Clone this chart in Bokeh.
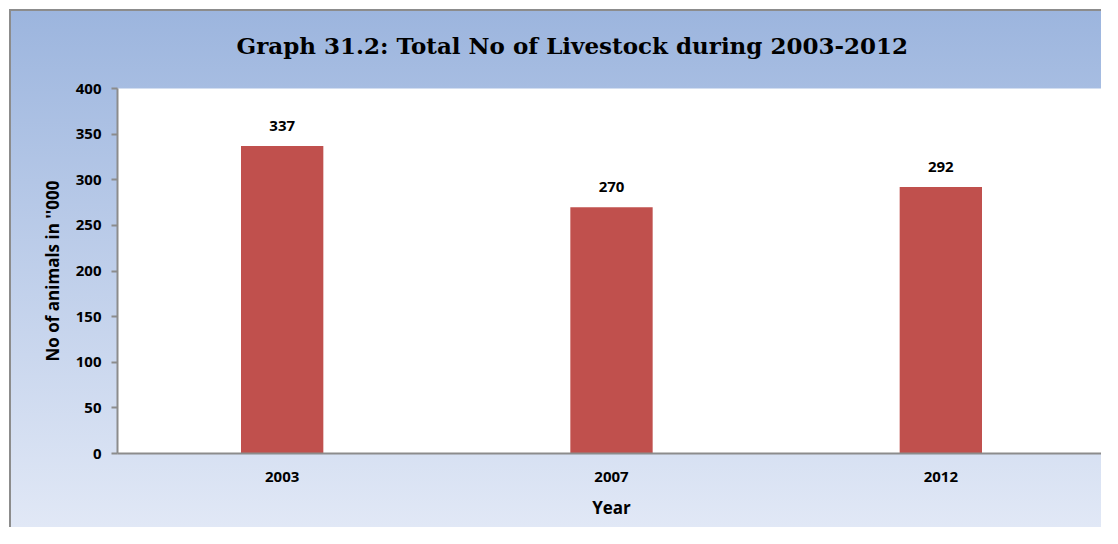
from bokeh.plotting import figure
from bokeh.models import ColumnDataSource, FactorRange, Title
from bokeh.core.properties import value
from bokeh.embed import file_html
from bokeh.resources import INLINE

years = ["2003", "2007", "2012"]
livestock = [337, 270, 292]
labels = [str(v) for v in livestock]
y_ticks = [0, 50, 100, 150, 200, 250, 300, 350, 400]

src = ColumnDataSource(dict(year=years, val=livestock, lab=labels))

p = figure(width=1101, height=527, x_range=FactorRange(*years), y_range=(0, 400),
           output_backend="svg", toolbar_location=None,
           min_border_left=108, min_border_top=79, min_border_right=5, min_border_bottom=83)
p.styles = {"background": "linear-gradient(to bottom, #9CB5DE 0%, #E1E8F6 100%)",
            "border-top": "9px solid white", "border-left": "9px solid white",
            "box-shadow": "inset 2px 2px 0 #8C8C8C"}
p.border_fill_color = None
p.background_fill_color = "white"
p.outline_line_color = None
p.xgrid.grid_line_color = None
p.ygrid.grid_line_color = None

p.vbar(x="year", top="val", width=0.25, source=src, fill_color="#C0504D", line_color=None)
p.text(x="year", y="val", text="lab", source=src, y_offset=-20,
       text_align="center", text_baseline="middle",
       text_font=value("Open Sans"), text_font_style="bold", text_font_size="15px",
       text_color="black")

ax = p.yaxis[0]
ax.ticker = y_ticks
ax.axis_label = "No of animals in ''000"
ax.axis_label_text_font = "Open Sans"
ax.axis_label_text_font_style = "bold"
ax.axis_label_text_font_size = "17px"
ax.axis_label_text_color = "black"
ax.axis_label_standoff = 9
ax.major_label_text_font = "Open Sans"
ax.major_label_text_font_style = "bold"
ax.major_label_text_font_size = "15px"
ax.major_label_text_color = "black"
ax.major_label_standoff = 10
ax.axis_line_color = "#8C8C8C"
ax.axis_line_width = 2
ax.major_tick_line_color = "#8C8C8C"
ax.major_tick_line_width = 2
ax.major_tick_out = 6
ax.major_tick_in = 0
ax.minor_tick_line_color = None

bx = p.xaxis[0]
bx.axis_label = "Year"
bx.axis_label_text_font = "Open Sans"
bx.axis_label_text_font_style = "bold"
bx.axis_label_text_font_size = "17px"
bx.axis_label_text_color = "black"
bx.axis_label_standoff = 11
bx.major_label_text_font = "Open Sans"
bx.major_label_text_font_style = "bold"
bx.major_label_text_font_size = "15px"
bx.major_label_text_color = "black"
bx.major_label_standoff = 18
bx.axis_line_color = "#8C8C8C"
bx.axis_line_width = 2
bx.major_tick_line_color = None
bx.major_tick_out = 0
bx.major_tick_in = 0

# blank spacer (closest to the frame) so the title sits higher
spacer = Title(text=" ", standoff=0, text_font_size="21px", text_color="black")
p.add_layout(spacer, "above")
title = Title(text="Graph 31.2: Total No of Livestock during 2003-2012",
              align="left", offset=119, standoff=10, vertical_align="bottom",
              text_font="DejaVu Serif", text_font_style="bold", text_font_size="23px",
              text_color="black")
p.add_layout(title, "above")

open("out.html", "w").write(file_html(p, INLINE))
